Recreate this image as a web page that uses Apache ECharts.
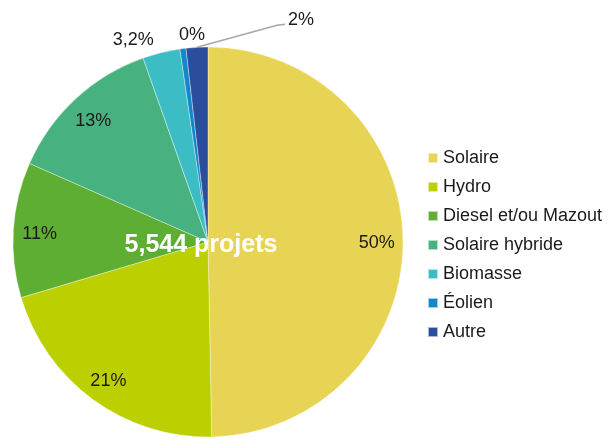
<!DOCTYPE html>
<html>
<head>
<meta charset="utf-8">
<script src="https://cdn.jsdelivr.net/npm/echarts@6/dist/echarts.min.js"></script>
<style>
html,body{margin:0;padding:0;background:#fff;}
#chart{width:614px;height:441px;}
</style>
</head>
<body>
<div id="chart"></div>
<script>
const categories = ['Solaire', 'Hydro', 'Diesel et/ou Mazout', 'Solaire hybride', 'Biomasse', 'Éolien', 'Autre'];
const shares = [49.7, 20.7, 11.2, 13.0, 3.1, 0.5, 1.8];
const shareLabels = ['50%', '21%', '11%', '13%', '3,2%', '0%', '2%'];
const colors = ['#E8D454', '#BCCF00', '#5DAE32', '#47B27F', '#3CBDC6', '#1487CB', '#2A4E9C'];
const totalLabel = '5,544 projets';
const insideCount = 4;

const chart = echarts.init(document.getElementById('chart'), null, {renderer: 'canvas'});
const FONT = 'Liberation Sans, Arial, sans-serif';
const center = [208, 242];
const R = 195;

const mainData = categories.map((n, i) => {
  const outside = i >= insideCount;
  return {
    name: n,
    value: shares[i],
    label: {show: outside},
    labelLine: {show: outside, lineStyle: {opacity: i === categories.length - 1 ? 1 : 0}}
  };
});
const overlayData = shares.map((v, i) => ({
  value: v,
  label: {show: i < insideCount}
}));

const offsets = {
  4: {dx: -28, dy: -13, align: 'center'},
  5: {dx: 9, dy: -13.5, align: 'center'},
  6: {dx: 91, dy: -27.5, align: 'left', line: true}
};

chart.setOption({
  animation: false,
  color: colors,
  legend: {
    orient: 'vertical',
    left: 422,
    top: 143,
    itemWidth: 10,
    itemHeight: 10,
    itemGap: 9,
    icon: 'rect',
    data: categories,
    selectedMode: false,
    textStyle: {fontFamily: FONT, fontSize: 18, color: '#1a1a1a', lineHeight: 20, padding: [0, 0, 0, 0]}
  },
  graphic: [{
    type: 'text',
    x: 201,
    y: 245,
    z: 100,
    style: {
      text: totalLabel,
      fill: '#ffffff',
      fontFamily: FONT,
      fontWeight: 'bold',
      fontSize: 25,
      align: 'center',
      verticalAlign: 'middle'
    }
  }],
  series: [
    {
      type: 'pie',
      center: center,
      radius: [0, R],
      startAngle: 90,
      clockwise: true,
      avoidLabelOverlap: false,
      silent: true,
      itemStyle: {borderColor: 'rgba(255,255,255,0.6)', borderWidth: 0.6},
      label: {
        position: 'outside',
        fontFamily: FONT,
        fontSize: 18,
        color: '#1a1a1a',
        formatter: p => shareLabels[p.dataIndex]
      },
      labelLine: {length: 10, length2: 5, lineStyle: {color: '#a6a6a6', width: 1.5}},
      labelLayout: function (p) {
        const o = offsets[p.dataIndex];
        if (!o || !p.labelLinePoints) return {};
        const e = p.labelLinePoints[0];
        const res = {x: e[0] + o.dx, y: e[1] + o.dy, align: o.align, verticalAlign: 'middle'};
        if (o.line) {
          res.labelLinePoints = [[e[0], e[1]], [e[0] + 80, e[1] - 22], [e[0] + 88, e[1] - 23]];
        } else {
          res.labelLinePoints = [[e[0], e[1]], [e[0], e[1]], [e[0], e[1]]];
        }
        return res;
      },
      data: mainData
    },
    {
      type: 'pie',
      center: center,
      radius: [R * 0.71, R * 0.99],
      startAngle: 90,
      clockwise: true,
      silent: true,
      itemStyle: {color: 'transparent', borderWidth: 0},
      label: {
        position: 'inside',
        fontFamily: FONT,
        fontSize: 18,
        color: '#1a1a1a',
        offset: [0, 3],
        formatter: p => shareLabels[p.dataIndex]
      },
      labelLine: {show: false},
      data: overlayData
    }
  ]
});
</script>
</body>
</html>
